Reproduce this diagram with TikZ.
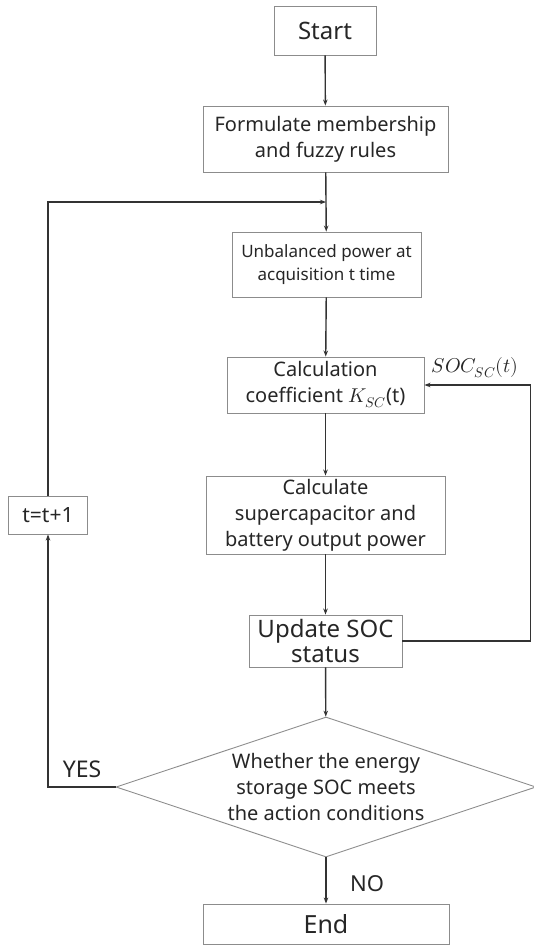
\documentclass[tikz,border=0pt]{standalone}
\usepackage{fontspec}
\usepackage{unicode-math}
\setmainfont{Noto Sans}
\setmathfont{Latin Modern Math}
\usetikzlibrary{arrows.meta,shapes.geometric}
\definecolor{boxgray}{HTML}{8C8C8C}
\definecolor{linegray}{HTML}{333333}
\definecolor{txtgray}{HTML}{262626}
\newcommand{\fs}[2]{\fontsize{#1}{#2}\selectfont}
\tikzset{
  box/.style={draw=boxgray,line width=0.9pt,rectangle,align=center,inner sep=0pt,text=txtgray},
  decision/.style={draw=boxgray,line width=0.9pt,diamond,aspect=3,align=center,inner sep=0pt,text=txtgray},
  arr/.style={draw=linegray,line width=1.4pt,-{Stealth[length=6pt,width=4.5pt]}},
  lbl/.style={text=txtgray,inner sep=0pt}
}

\begin{document}
\begin{tikzpicture}[x=1pt,y=-1pt]
  \useasboundingbox (0,0) rectangle (534,946);

  % main column
  \node[box,minimum width=102,minimum height=49,font=\fs{24}{26}] (start) at (325,30.5) {Start};
  \node[box,minimum width=245,minimum height=66,font=\fs{20}{26}] (rules) at (325.5,139) {Formulate membership\\and fuzzy rules};
  \node[box,minimum width=189,minimum height=65,font=\fs{17}{23}] (acq) at (326.5,264.5) {Unbalanced power at\\acquisition t time};
  \node[box,minimum width=197,minimum height=56,font=\fs{20}{26}] (coef) at (325.5,385) {Calculation\\coefficient $K_{SC}$(t)};
  \node[box,minimum width=239,minimum height=78,font=\fs{20}{26}] (power) at (325.5,515) {Calculate\\supercapacitor and\\battery output power};
  \node[box,minimum width=153,minimum height=52,font=\fs{24}{25}] (update) at (325.5,641) {Update SOC\\status};
  \node[decision,minimum width=420,minimum height=140,font=\fs{20}{26}] (decide) at (326,787) {Whether the energy\\storage SOC meets\\the action conditions};
  \node[box,minimum width=246,minimum height=40,font=\fs{25}{26}] (finish) at (326,924) {End};

  % loop box
  \node[box,minimum width=79,minimum height=38,font=\fs{21}{24}] (tstep) at (48,515) {t=t+1};
  \coordinate (join) at (326,202);

  % labels
  \node[lbl,font=\fs{23}{24}] (yes) at (82,769) {YES};
  \node[lbl,font=\fs{22}{24}] (no) at (367,884) {NO};
  \node[lbl,font=\fs{20}{22}] (socl) at (475,368) {$SOC_{SC}(t)$};

  \draw[arr] (start) -- (rules);
  \draw[arr] (rules) -- (acq);
  \draw[arr] (acq) -- (coef);
  \draw[arr] (coef) -- (power);
  \draw[arr] (power) -- (update);
  \draw[arr] (update) -- (decide);
  \draw[arr] (decide) -- (finish);

  \draw[arr] (decide.west) -| (tstep.south);
  \draw[arr] (tstep.north) |- (join);
  \draw[arr] (update.east) -- ++(128,0) |- (coef.east);
\end{tikzpicture}
\end{document}
